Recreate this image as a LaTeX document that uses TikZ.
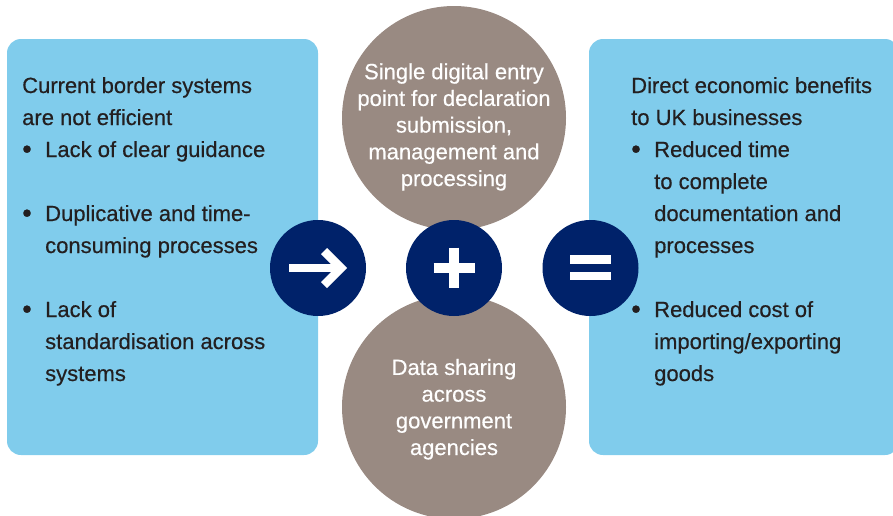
\documentclass[tikz,border=0pt]{standalone}
\usepackage{fontspec}
% a touch of emboldening gives the medium weight of the labels
\setmainfont{Liberation Sans}[FakeBold=0.45]
\usetikzlibrary{calc}
\definecolor{panelblue}{HTML}{80CCEC}
\definecolor{stone}{HTML}{998A82}
\definecolor{navy}{HTML}{00226A}
\definecolor{ink}{HTML}{231F20}
\newcommand{\itm}{\makebox[23pt][l]{\raisebox{-1.3pt}{\scalebox{1.25}{\textbullet}}}}
\newcommand{\cont}{\hspace*{23pt}}
\begin{document}
\begin{tikzpicture}[x=1pt,y=-1pt,
  panel/.style={fill=panelblue, rounded corners=14pt, inner sep=0pt},
  bigdisc/.style={circle, fill=stone, minimum size=224pt, inner sep=0pt},
  opdisc/.style={circle, fill=navy, minimum size=96pt, inner sep=0pt},
  % multi-line nodes are placed by the baseline of their last line
  paneltext/.style={text=ink, inner sep=0pt, align=left, anchor=base west,
    font=\fontsize{22pt}{32pt}\selectfont},
  disctext/.style={text=white, inner sep=0pt, align=center, anchor=base,
    font=\fontsize{22pt}{26.7pt}\selectfont},
  glyph/.style={draw=white, line width=8.5pt, line join=miter}]
\useasboundingbox (0,0) rectangle (893,515);
\clip (0,0) rectangle (893,515);

% side panels
\node[panel, minimum width=311pt, minimum height=416pt] (leftpanel) at (162.5,247) {};
\node[panel, minimum width=310pt, minimum height=416pt] (rightpanel) at (744,247) {};

% the two central components
\node[bigdisc] (entry) at (454,118) {};
\node[bigdisc] (sharing) at (454,407) {};

% panel texts
\node[paneltext] (problems) at (22,381) {Current border systems\\
are not efficient\\
\itm Lack of clear guidance\\[32pt]
\itm Duplicative and time-\\
\cont consuming processes\\[32pt]
\itm Lack of\\
\cont standardisation across\\
\cont systems};

\node[paneltext] (benefits) at (631,381) {Direct economic benefits\\
to UK businesses\\
\itm Reduced time\\
\cont to complete\\
\cont documentation and\\
\cont processes\\[32pt]
\itm Reduced cost of\\
\cont importing/exporting\\
\cont goods};

% circle texts
\node[disctext] (entrytext) at (454,186) {Single digital entry\\
point for declaration\\
submission,\\
management and\\
processing};
\node[disctext] (sharingtext) at (454,455) {Data sharing\\
across\\
government\\
agencies};

% operator discs
\node[opdisc] (arrow) at (318,268) {};
\node[opdisc] (plus) at (454,268) {};
\node[opdisc] (equals) at (590.5,268) {};

% arrow glyph
\draw[glyph, line width=8pt] ($(arrow)+(-29,0)$) -- ($(arrow)+(23,0)$);
\draw[glyph] ($(arrow)+(6,-17)$) -- ($(arrow)+(23,0)$) -- ($(arrow)+(6,17)$);

% plus glyph
\draw[glyph, line width=9.5pt] ($(plus)+(0,-20.5)$) -- ($(plus)+(0,19.5)$);
\draw[glyph, line width=10pt] ($(plus)+(-20.5,-0.5)$) -- ($(plus)+(20.5,-0.5)$);

% equals glyph
\draw[glyph] ($(equals)+(-20.5,-8.5)$) -- ($(equals)+(20.5,-8.5)$);
\draw[glyph] ($(equals)+(-20.5,8)$) -- ($(equals)+(20.5,8)$);
\end{tikzpicture}
\end{document}
